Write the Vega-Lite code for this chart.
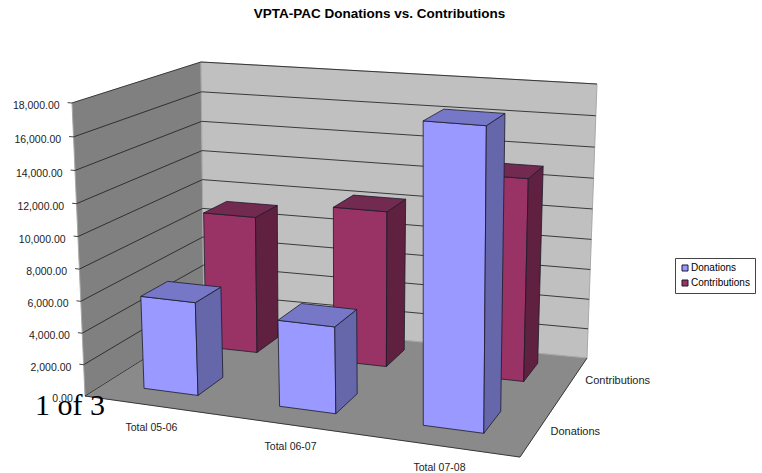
{
"$schema":"https://vega.github.io/schema/vega-lite/v6.json",
"width":762,"height":473,"padding":0,"autosize":{"type":"none"},
"background":"white",
"config":{"view":{"stroke":null},"font":"Liberation Sans"},
"title":{"text":"VPTA-PAC Donations vs. Contributions","fontSize":13.5,"fontWeight":"bold","font":"Liberation Sans","color":"#000","anchor":"middle","dx":-1.5,"offset":-20},
"data":{"values":[
{"kind":"wall","name":"Left wall","value":18000},
{"kind":"wall","name":"Back wall","value":18000},
{"kind":"wall","name":"Floor","value":0},
{"kind":"edge","name":"Floor edge","value":0},
{"kind":"tick","value":0},{"kind":"tick","value":2000},{"kind":"tick","value":4000},{"kind":"tick","value":6000},{"kind":"tick","value":8000},{"kind":"tick","value":10000},{"kind":"tick","value":12000},{"kind":"tick","value":14000},{"kind":"tick","value":16000},{"kind":"tick","value":18000},
{"kind":"bar","period":"Total 05-06","series":"Contributions","value":9100},
{"kind":"bar","period":"Total 06-07","series":"Contributions","value":10200},
{"kind":"bar","period":"Total 07-08","series":"Contributions","value":13000},
{"kind":"bar","period":"Total 05-06","series":"Donations","value":5900},
{"kind":"bar","period":"Total 06-07","series":"Donations","value":5400},
{"kind":"bar","period":"Total 07-08","series":"Donations","value":18000},
{"kind":"category","period":"Total 05-06"},
{"kind":"category","period":"Total 06-07"},
{"kind":"category","period":"Total 07-08"},
{"kind":"depth","series":"Donations"},
{"kind":"depth","series":"Contributions"},
{"kind":"note","note":"1 of 3"}
]},
"transform":[
{"calculate":"datum.kind==='bar'?[[0,0,0,0,0],[1,1,0,0,0],[2,1,0,1,0],[3,0,0,1,0],[4,0,0,0,0],[0,1,0,0,1],[1,1,1,0,1],[2,1,1,1,1],[3,1,0,1,1],[4,1,0,0,1],[0,0,0,1,2],[1,1,0,1,2],[2,1,1,1,2],[3,0,1,1,2],[4,0,0,1,2]]:datum.name==='Left wall'?[[0,0,0,0,0],[1,0,1,0,0],[2,0,1,1,0],[3,0,0,1,0],[4,0,0,0,0]]:datum.name==='Back wall'?[[0,0,1,0,0],[1,1,1,0,0],[2,1,1,1,0],[3,0,1,1,0],[4,0,1,0,0]]:datum.name==='Floor'?[[0,0,0,0,0],[1,1,0,0,0],[2,1,1,0,0],[3,0,1,0,0],[4,0,0,0,0]]:datum.kind==='edge'?[[0,0,1,0,0],[1,0,0,0,0],[2,1,0,0,0],[3,1,1,0,0]]:datum.kind==='tick'?[[0,-0.012,0,1,0],[1,0,0,1,0],[2,0,1,1,0],[3,1,1,1,0]]:datum.kind==='category'?[[0,0.5,0,0,0]]:datum.kind==='depth'?[[0,1,0.5,0,0]]:[[0,0,0,0,0]]","as":"verts"},
{"flatten":["verts"]},
{"calculate":"datum.verts[0]","as":"n"},
{"calculate":"indexof(['Total 05-06','Total 06-07','Total 07-08'],datum.period)","as":"pi"},
{"calculate":"datum.period?[0.18,0.522,0.843][datum.pi]+(datum.verts[1]*2-1)*[0.072,0.066,0.0625][datum.pi]:datum.verts[1]","as":"u"},
{"calculate":"datum.series?(datum.series==='Donations'?0.15:0.675)+datum.verts[2]*0.21:datum.verts[2]","as":"v"},
{"calculate":"datum.verts[3]*(datum.value||0)/18000","as":"w"},
{"calculate":"1-0.1799*datum.u+0.16725*datum.v-0.045*datum.w","as":"D"},
{"calculate":"(341.45*datum.u+153.12*datum.v+85+datum.w*(-16.24-4.44*datum.u+3.69*datum.v))/datum.D","as":"px"},
{"calculate":"(-21.2*datum.u-21.31*datum.v+396+datum.w*(-297.63+30.78*datum.u-7.48*datum.v))/datum.D","as":"py"},
{"calculate":"datum.kind==='bar'?datum.series+['',' side',' top'][datum.verts[4]]:datum.name","as":"key"},
{"calculate":"datum.kind+'|'+datum.name+'|'+datum.period+'|'+datum.series+'|'+datum.verts[4]+'|'+datum.value","as":"poly"}
],
"encoding":{
"x":{"field":"px","type":"quantitative","axis":null,"scale":{"domain":[0,762],"range":[0,762],"nice":false,"zero":false}},
"y":{"field":"py","type":"quantitative","axis":null,"scale":{"domain":[0,473],"range":[0,473],"nice":false,"zero":false}}
},
"layer":[
{"transform":[{"filter":"datum.kind==='wall'"}],
 "mark":{"type":"line","stroke":"#a8a8a8","strokeWidth":1,"clip":false},
 "encoding":{"detail":{"field":"poly"},"order":{"field":"n","type":"quantitative"},
  "fill":{"field":"key","type":"nominal","title":null,
   "scale":{"domain":["Donations","Contributions","Donations side","Donations top","Contributions side","Contributions top","Left wall","Back wall","Floor"],"range":["#9999ff","#993366","#6666aa","#7777c8","#602040","#722a50","#808080","#c0c0c0","#8a8a8a"]},
   "legend":{"values":["Donations","Contributions"],"orient":"none","legendX":675,"legendY":258,"symbolType":"square","symbolSize":36,"symbolStrokeColor":"#000","symbolStrokeWidth":1,"labelFontSize":10,"labelFont":"Liberation Sans","labelColor":"#000","strokeColor":"#444","fillColor":"#fff","padding":5,"rowPadding":5,"labelOffset":1,"symbolOffset":0}}}},
{"transform":[{"filter":"datum.kind==='tick'&&datum.value>0||datum.kind==='edge'"}],
 "mark":{"type":"line","stroke":"#222","strokeWidth":1,"opacity":0.85},
 "encoding":{"detail":{"field":"poly"},"order":{"field":"n","type":"quantitative"}}},
{"transform":[{"filter":"datum.kind==='bar'"}],
 "mark":{"type":"line","stroke":"#1a1a2a","strokeWidth":0.8},
 "encoding":{"detail":{"field":"poly"},"order":{"field":"n","type":"quantitative"},
  "fill":{"field":"key","type":"nominal"}}},
{"transform":[{"filter":"datum.kind==='tick'&&datum.n===0"}],
 "mark":{"type":"text","align":"right","baseline":"middle","dx":-8,"dy":3.5,"fontSize":10.5,"color":"#222"},
 "encoding":{"text":{"field":"value","type":"quantitative","format":",.2f"}}},
{"transform":[{"filter":"datum.kind==='category'"}],
 "mark":{"type":"text","align":"center","baseline":"middle","dy":22.5,"fontSize":10.5,"color":"#222"},
 "encoding":{"text":{"field":"period","type":"nominal"}}},
{"transform":[{"filter":"datum.kind==='depth'"}],
 "mark":{"type":"text","align":"left","baseline":"middle","dx":11,"dy":4,"fontSize":11,"color":"#222"},
 "encoding":{"text":{"field":"series","type":"nominal"}}},
{"transform":[{"filter":"datum.kind==='note'"}],
 "mark":{"type":"text","align":"left","baseline":"alphabetic","font":"Liberation Serif","fontSize":30,"color":"#000"},
 "encoding":{"x":{"datum":35},"y":{"datum":415},"text":{"field":"note","type":"nominal"}}}
]
}
